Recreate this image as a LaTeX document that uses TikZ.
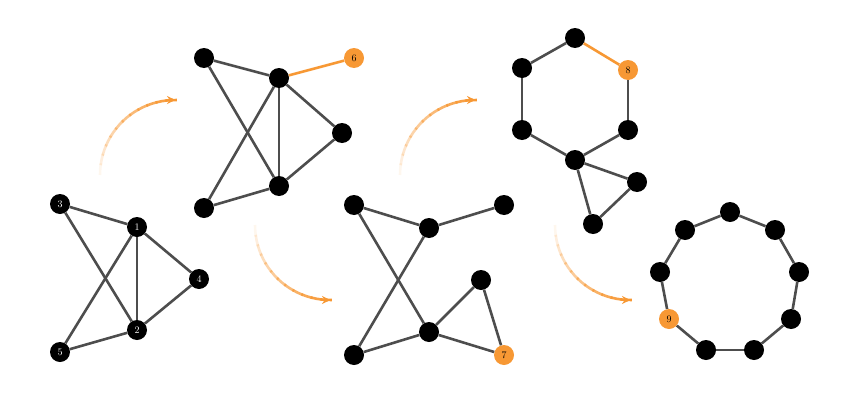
\documentclass[tikz,border=0pt]{standalone}
\usetikzlibrary{arrows.meta}
\definecolor{vorange}{RGB}{247,152,52}
\definecolor{egray}{RGB}{77,77,77}
\begin{document}
\begin{tikzpicture}[x=1pt,y=-1pt]
\tikzset{ >={Stealth[length=8pt,width=8pt]},
  vtx/.style={circle, fill=black, minimum size=20pt, inner sep=0pt, text=white},
  hot/.style={vtx, fill=vorange, text=black},
  edge/.style={egray, line width=2.6pt},
  hotedge/.style={vorange, line width=2.6pt},
}
\useasboundingbox (0,0) rectangle (851,415);

% first graph
\node [vtx] (a3) at (60,204) {3};
\node [vtx] (a1) at (137,227) {1};
\node [vtx] (a4) at (199,279) {4};
\node [vtx] (a2) at (137,330) {2};
\node [vtx] (a5) at (60,352) {5};
\begin{scope}[on background layer/.try]
\end{scope}
\draw [edge] (a3) -- (a1);
\draw [edge] (a3) -- (a2);
\draw [edge] (a1) -- (a4);
\draw [edge] (a1) -- (a5);
\draw [edge] (a1) -- (a2);
\draw [edge] (a4) -- (a2);
\draw [edge] (a5) -- (a2);

% second graph
\node [vtx] (b1) at (204,58) {};
\node [vtx] (b2) at (279,78) {};
\node [hot] (b6) at (354,58) {6};
\node [vtx] (b3) at (342,133) {};
\node [vtx] (b4) at (279,186) {};
\node [vtx] (b5) at (204,208) {};
\draw [edge] (b1) -- (b2);
\draw [edge] (b1) -- (b4);
\draw [hotedge] (b2) -- (b6);
\draw [edge] (b2) -- (b3);
\draw [edge] (b2) -- (b4);
\draw [edge] (b2) -- (b5);
\draw [edge] (b3) -- (b4);
\draw [edge] (b5) -- (b4);

% third graph
\node [vtx] (c1) at (354,205) {};
\node [vtx] (c2) at (429,228) {};
\node [vtx] (c3) at (504,205) {};
\node [vtx] (c4) at (481,280) {};
\node [vtx] (c5) at (429,332) {};
\node [vtx] (c6) at (354,355) {};
\node [hot] (c7) at (504,355) {7};
\draw [edge] (c1) -- (c2);
\draw [edge] (c1) -- (c5);
\draw [edge] (c2) -- (c3);
\draw [edge] (c2) -- (c6);
\draw [edge] (c6) -- (c5);
\draw [edge] (c5) -- (c4);
\draw [edge] (c4) -- (c7);
\draw [edge] (c5) -- (c7);

% fourth graph
\node [vtx] (d1) at (575,38) {};
\node [hot] (d8) at (628,70) {8};
\node [vtx] (d2) at (522,68) {};
\node [vtx] (d3) at (522,130) {};
\node [vtx] (d4) at (628,130) {};
\node [vtx] (d5) at (575,160) {};
\node [vtx] (d6) at (637,182) {};
\node [vtx] (d7) at (593,224) {};
\draw [edge] (d2) -- (d1);
\draw [hotedge] (d1) -- (d8);
\draw [edge] (d8) -- (d4);
\draw [edge] (d4) -- (d5);
\draw [edge] (d5) -- (d3);
\draw [edge] (d3) -- (d2);
\draw [edge] (d5) -- (d6);
\draw [edge] (d6) -- (d7);
\draw [edge] (d7) -- (d5);

% fifth graph, a cycle
\node [vtx] (e1) at (730,212) {};
\node [vtx] (e2) at (775,230) {};
\node [vtx] (e3) at (799,272) {};
\node [vtx] (e4) at (791,319) {};
\node [vtx] (e5) at (754,350) {};
\node [vtx] (e6) at (706,350) {};
\node [hot] (e9) at (669,319) {9};
\node [vtx] (e7) at (660,272) {};
\node [vtx] (e8) at (685,230) {};
\foreach \u/\v in {e1/e2,e2/e3,e3/e4,e4/e5,e5/e6,e6/e9,e9/e7,e7/e8,e8/e1}
  \draw [edge] (\u) -- (\v);

% fading arrows
\foreach \cx/\cy/\ea in {175/175/270, 330/225/90, 475/175/270, 630/225/90} {
  \foreach \i in {0,...,11} {
    \pgfmathsetmacro{\sa}{180+(\ea-180)*\i/12}
    \pgfmathsetmacro{\sb}{180+(\ea-180)*(\i+1.2)/12}
    \pgfmathsetmacro{\op}{(\i+1)/12}
    \draw [vorange, line width=2.6pt, opacity=\op]
      (\cx,\cy) ++(\sa:75) arc [start angle=\sa, end angle=\sb, radius=75];
  }
  \draw [vorange, line width=2.6pt, ->]
    (\cx,\cy) ++({180+(\ea-180)*0.95}:75) arc [start angle={180+(\ea-180)*0.95}, end angle=\ea, radius=75];
}
\end{tikzpicture}
\end{document}
